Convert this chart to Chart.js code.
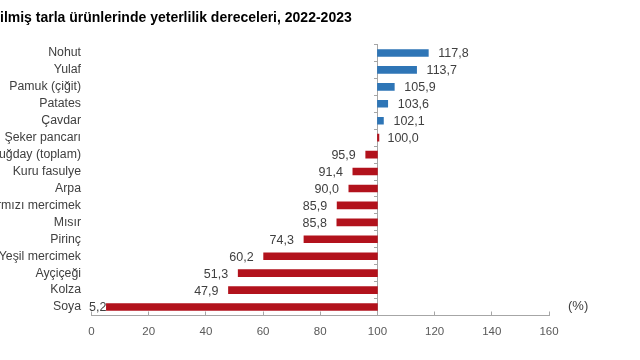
<!DOCTYPE html>
<html>
<head>
<meta charset="utf-8">
<script src="https://cdn.jsdelivr.net/npm/chart.js@4.4.1/dist/chart.umd.min.js"></script>
<style>
  html, body { margin: 0; padding: 0; background: #ffffff; }
  #wrap { position: relative; width: 640px; height: 360px; overflow: hidden; }
  #unit { position: absolute; left: 568px; top: 298px; font: 13px "Liberation Sans", Arial, sans-serif; color: #404040; }
</style>
</head>
<body>
<div id="wrap">
  <canvas id="c" width="640" height="360"></canvas>
  <div id="unit">(%)</div>
</div>
<script>
const titleText = "ilmiş tarla ürünlerinde yeterlilik dereceleri, 2022-2023";
const categories = ["Nohut", "Yulaf", "Pamuk (çiğit)", "Patates", "Çavdar", "Şeker pancarı",
  "Buğday (toplam)", "Kuru fasulye", "Arpa", "Kırmızı mercimek", "Mısır", "Pirinç",
  "Yeşil mercimek", "Ayçiçeği", "Kolza", "Soya"];
const values = [117.8, 113.7, 105.9, 103.6, 102.1, 100.0, 95.9, 91.4, 90.0, 85.9, 85.8, 74.3, 60.2, 51.3, 47.9, 5.2];
const baseline = 100;
const xTicks = [0, 20, 40, 60, 80, 100, 120, 140, 160];

const FONT = '"Liberation Sans", Arial, sans-serif';
const BLUE = '#2e75b6';
const RED = '#b2121c';

const labelPlugin = {
  id: 'valueLabels',
  afterDatasetsDraw(chart) {
    const ctx = chart.ctx;
    const meta = chart.getDatasetMeta(0);
    const xs = chart.scales.x;
    ctx.save();
    ctx.font = '12.5px ' + FONT;
    ctx.fillStyle = '#404040';
    ctx.textBaseline = 'middle';
    meta.data.forEach((bar, i) => {
      const v = values[i];
      const txt = v.toFixed(1).replace('.', ',');
      const px = xs.getPixelForValue(v);
      if (v >= baseline) {
        ctx.textAlign = 'left';
        ctx.fillText(txt, Math.max(px, xs.getPixelForValue(baseline)) + 10, bar.y + 1);
      } else {
        ctx.textAlign = 'right';
        ctx.fillText(txt, Math.max(px - 10, xs.left + 15), bar.y + 1);
      }
    });
    ctx.restore();
  }
};

new Chart(document.getElementById('c'), {
  type: 'bar',
  data: {
    labels: categories,
    datasets: [{
      data: values.map(v => [baseline, v]),
      backgroundColor: values.map(v => v > baseline ? BLUE : RED),
      barThickness: 7,
      minBarLength: 1.5,
      borderWidth: 0
    }]
  },
  options: {
    indexAxis: 'y',
    responsive: false,
    animation: false,
    layout: { padding: { left: 0, right: 91, top: 0, bottom: 0 } },
    plugins: {
      legend: { display: false },
      tooltip: { enabled: false },
      title: {
        display: true,
        text: titleText,
        align: 'start',
        color: '#000000',
        font: { family: FONT, size: 14, weight: 'bold', lineHeight: 1.2 },
        padding: { top: 10, bottom: 17.7 }
      }
    },
    scales: {
      x: {
        type: 'linear',
        min: 0,
        max: 160,
        afterBuildTicks(scale) { scale.ticks = xTicks.map(v => ({ value: v })); },
        afterFit(scale) { scale.height = 44.5; },
        border: { display: true, color: '#a6a6a6', width: 1 },
        grid: { drawOnChartArea: false, drawTicks: true, tickLength: -4, color: '#a6a6a6' },
        ticks: { color: '#595959', font: { family: FONT, size: 11.5 }, padding: 13, maxRotation: 0 }
      },
      y: {
        type: 'category',
        position: 'left',
        offset: true,
        afterFit(scale) { scale.width = 91.5; },
        border: { display: false },
        grid: { display: false, drawTicks: false, offset: true },
        ticks: { color: '#404040', font: { family: FONT, size: 12.3 }, padding: 10.5, autoSkip: false }
      },
      y2: {
        type: 'category',
        axis: 'y',
        position: { x: baseline },
        offset: true,
        border: { display: true, color: '#a6a6a6', width: 1 },
        grid: { drawOnChartArea: false, drawTicks: true, tickLength: 3, offset: true, color: '#a6a6a6' },
        ticks: { display: false }
      }
    }
  },
  plugins: [labelPlugin]
});
</script>
</body>
</html>
